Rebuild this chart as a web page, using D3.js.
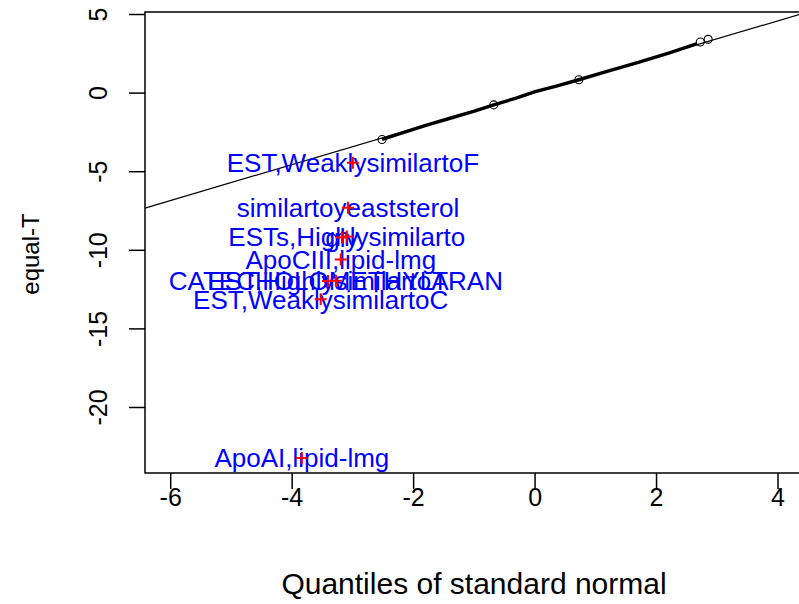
<!DOCTYPE html>
<html>
<head>
<meta charset="utf-8">
<script src="https://cdn.jsdelivr.net/npm/d3@7"></script>
<style>
  body { margin: 0; background: #fff; }
  svg { display: block; font-family: "Liberation Sans", Arial, sans-serif; }
</style>
</head>
<body>
<div id="chart"></div>
<script>
// Variables
const width = 799;
const height = 604;
const box = {left: 145, top: 12, bottom: 473};
const labelSize = 26;
const tickSize = 25;
const tickLength = 16;

// Colors
const ink = '#000';
const labelBlue = '#0000ff';
const markRed = '#ff0000';

// Data: dense body of the normal QQ plot, read along the thick band
const bulkX = [-2.52, -2.2, -1.8, -1.4, -1.0, -0.68, -0.3, 0.0, 0.35, 0.72, 1.2, 1.7, 2.2, 2.67];
const bulkY = [-2.95, -2.55, -2.05, -1.6, -1.15, -0.75, -0.3, 0.1, 0.45, 0.85, 1.4, 1.95, 2.55, 3.15];

// Single points visible as open circles
const circleX = [-2.52, -0.68, 0.72, 2.72, 2.85];
const circleY = [-2.95, -0.75, 0.85, 3.25, 3.42];

// Labelled outliers
const outlierNames = ['EST,WeaklysimilartoF', 'similartoyeaststerol', 'ESTs,Highlysimilarto', 'gly',
  'ApoCIII,lipid-lmg', 'CATECHOLOMETHYLTRAN', 'EST,HighlysimilartoA', 'EST,WeaklysimilartoC', 'ApoAI,lipid-lmg'];
const outlierX = [-3.0, -3.08, -3.10, -3.18, -3.20, -3.28, -3.41, -3.53, -3.84];
const outlierY = [-4.43, -7.30, -9.13, -9.19, -10.58, -11.94, -11.96, -13.12, -23.22];

// Axis ticks
const xTicks = [-6, -4, -2, 0, 2, 4];
const yTicks = [5, 0, -5, -10, -15, -20];

// Scales
const x = d3.scaleLinear().domain([-6, 4]).range([170.7, 778]);
const y = d3.scaleLinear().domain([-20, 5]).range([407.5, 14.5]);

const svg = d3.select('#chart').append('svg')
  .attr('width', width)
  .attr('height', height);

// qqline through the quartile points, as R does
const q1 = {x: circleX[1], y: circleY[1]};
const q3 = {x: circleX[2], y: circleY[2]};
const slope = (q3.y - q1.y) / (q3.x - q1.x);
const intercept = q1.y - slope * q1.x;
const xMin = x.invert(box.left);
const xMax = x.invert(width + 10);

const plot = svg.append('g');

plot.append('line')
  .attr('x1', x(xMin))
  .attr('y1', y(intercept + slope * xMin))
  .attr('x2', x(xMax))
  .attr('y2', y(intercept + slope * xMax))
  .attr('stroke', ink)
  .attr('stroke-width', 1.2);

// Dense points overlap into a thick band
const bulk = bulkX.map((d, i) => [d, bulkY[i]]);
plot.append('path')
  .attr('d', d3.line().x(d => x(d[0])).y(d => y(d[1]))(bulk))
  .attr('fill', 'none')
  .attr('stroke', ink)
  .attr('stroke-width', 3.4);

plot.append('g')
  .attr('fill', 'none')
  .attr('stroke', ink)
  .attr('stroke-width', 1.1)
  .selectAll('circle')
  .data(circleX.map((d, i) => [d, circleY[i]]))
  .join('circle')
  .attr('cx', d => x(d[0]))
  .attr('cy', d => y(d[1]))
  .attr('r', 4);

// Outlier labels
const outliers = outlierNames.map((name, i) => ({name, x: outlierX[i], y: outlierY[i]}));

plot.append('g')
  .attr('fill', labelBlue)
  .attr('font-size', labelSize)
  .attr('text-anchor', 'middle')
  .selectAll('text')
  .data(outliers)
  .join('text')
  .attr('x', d => x(d.x))
  .attr('y', d => y(d.y) + labelSize * 0.36)
  .text(d => d.name);

plot.append('g')
  .attr('stroke', markRed)
  .attr('stroke-width', 2)
  .selectAll('path')
  .data(outliers)
  .join('path')
  .attr('d', d => `M${x(d.x) - 6},${y(d.y)}h12M${x(d.x)},${y(d.y) - 6}v12`);

// Box
svg.append('path')
  .attr('d', `M${width + 5},${box.top}H${box.left}V${box.bottom}H${width + 5}`)
  .attr('fill', 'none')
  .attr('stroke', ink)
  .attr('stroke-width', 1.5);

// X axis
const xAxis = svg.append('g');
xAxis.selectAll('line')
  .data(xTicks)
  .join('line')
  .attr('x1', d => x(d))
  .attr('x2', d => x(d))
  .attr('y1', box.bottom)
  .attr('y2', box.bottom + tickLength)
  .attr('stroke', ink)
  .attr('stroke-width', 1.5);
xAxis.selectAll('text')
  .data(xTicks)
  .join('text')
  .attr('x', d => x(d))
  .attr('y', 497 + tickSize * 0.36)
  .attr('text-anchor', 'middle')
  .attr('font-size', tickSize)
  .text(d => d < 0 ? '-' + Math.abs(d) : d);

// Y axis
const yAxis = svg.append('g');
yAxis.selectAll('line')
  .data(yTicks)
  .join('line')
  .attr('x1', box.left - tickLength)
  .attr('x2', box.left)
  .attr('y1', d => y(d))
  .attr('y2', d => y(d))
  .attr('stroke', ink)
  .attr('stroke-width', 1.5);
yAxis.selectAll('text')
  .data(yTicks)
  .join('text')
  .attr('transform', d => `translate(${98 + tickSize * 0.36},${y(d)}) rotate(-90)`)
  .attr('text-anchor', 'middle')
  .attr('font-size', tickSize)
  .text(d => d < 0 ? '-' + Math.abs(d) : d);

// Axis titles
svg.append('text')
  .attr('x', 474)
  .attr('y', 584 + 10)
  .attr('text-anchor', 'middle')
  .attr('font-size', 30)
  .text('Quantiles of standard normal');

svg.append('text')
  .attr('transform', `translate(${30 + 9},254) rotate(-90)`)
  .attr('text-anchor', 'middle')
  .attr('font-size', 24)
  .text('equal-T');
</script>
</body>
</html>
